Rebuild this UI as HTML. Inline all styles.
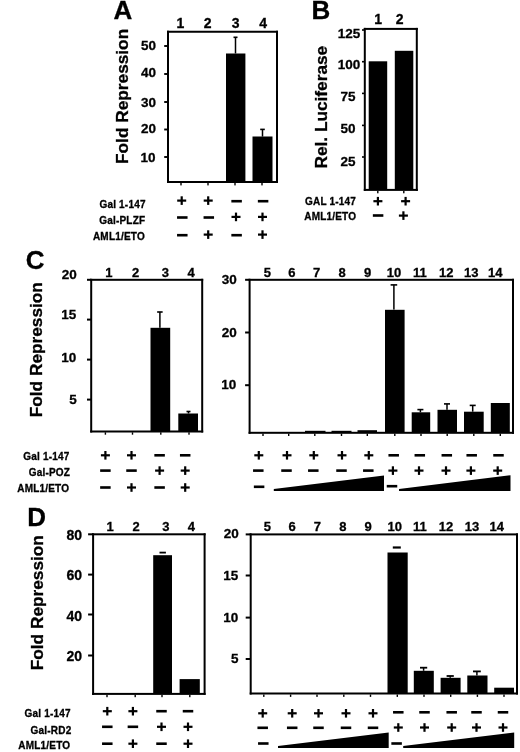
<!DOCTYPE html>
<html><head><meta charset="utf-8"><style>
html,body{margin:0;padding:0;background:#fff;}
body{width:520px;height:752px;overflow:hidden;}
svg{display:block;will-change:transform;}
text{font-family:"Liberation Sans", sans-serif;font-weight:bold;fill:#000;stroke:#000;stroke-width:0.3px;}
</style></head><body>
<svg width="520" height="752" viewBox="0 0 520 752">
<rect x="167.00" y="30.75" width="111.00" height="2.00"/>
<rect x="167.00" y="181.00" width="111.00" height="2.00"/>
<rect x="167.00" y="30.75" width="2.00" height="152.25"/>
<rect x="276.00" y="30.75" width="2.00" height="152.25"/>
<rect x="164.20" y="45.05" width="3.30" height="1.90"/>
<rect x="164.20" y="73.05" width="3.30" height="1.90"/>
<rect x="164.20" y="101.05" width="3.30" height="1.90"/>
<rect x="164.20" y="128.55" width="3.30" height="1.90"/>
<rect x="164.20" y="156.05" width="3.30" height="1.90"/>
<rect x="180.30" y="183.00" width="1.40" height="2.40"/>
<rect x="207.30" y="183.00" width="1.40" height="2.40"/>
<rect x="234.30" y="183.00" width="1.40" height="2.40"/>
<rect x="261.30" y="183.00" width="1.40" height="2.40"/>
<rect x="226.00" y="53.50" width="19.40" height="128.50"/>
<rect x="234.75" y="37.30" width="1.50" height="16.20"/>
<rect x="233.50" y="36.50" width="4.00" height="1.60"/>
<rect x="252.50" y="136.50" width="20.00" height="45.50"/>
<rect x="261.75" y="129.40" width="1.50" height="7.20"/>
<rect x="260.20" y="128.60" width="4.60" height="1.60"/>
<rect x="177.20" y="199.50" width="9.00" height="2.20"/>
<rect x="180.60" y="196.30" width="2.20" height="8.60"/>
<rect x="203.70" y="199.50" width="9.00" height="2.20"/>
<rect x="207.10" y="196.30" width="2.20" height="8.60"/>
<rect x="231.35" y="199.90" width="10.50" height="2.60"/>
<rect x="257.85" y="199.90" width="10.50" height="2.60"/>
<rect x="177.05" y="216.20" width="10.50" height="2.60"/>
<rect x="203.55" y="216.20" width="10.50" height="2.60"/>
<rect x="231.50" y="215.80" width="9.00" height="2.20"/>
<rect x="234.90" y="212.60" width="2.20" height="8.60"/>
<rect x="258.00" y="215.80" width="9.00" height="2.20"/>
<rect x="261.40" y="212.60" width="2.20" height="8.60"/>
<rect x="177.05" y="233.90" width="10.50" height="2.60"/>
<rect x="203.70" y="233.50" width="9.00" height="2.20"/>
<rect x="207.10" y="230.30" width="2.20" height="8.60"/>
<rect x="231.35" y="233.90" width="10.50" height="2.60"/>
<rect x="258.00" y="233.50" width="9.00" height="2.20"/>
<rect x="261.40" y="230.30" width="2.20" height="8.60"/>
<rect x="363.80" y="27.90" width="54.00" height="2.00"/>
<rect x="363.80" y="188.90" width="54.00" height="2.00"/>
<rect x="363.80" y="27.90" width="2.00" height="163.00"/>
<rect x="415.80" y="27.90" width="2.00" height="163.00"/>
<rect x="362.00" y="29.20" width="2.00" height="1.60"/>
<rect x="362.00" y="60.90" width="2.00" height="1.60"/>
<rect x="362.00" y="92.60" width="2.00" height="1.60"/>
<rect x="362.00" y="124.60" width="2.00" height="1.60"/>
<rect x="362.00" y="156.20" width="2.00" height="1.60"/>
<rect x="368.70" y="61.30" width="18.50" height="128.60"/>
<rect x="394.80" y="50.80" width="18.50" height="139.10"/>
<rect x="377.10" y="190.90" width="1.40" height="2.40"/>
<rect x="403.10" y="190.90" width="1.40" height="2.40"/>
<rect x="373.40" y="200.10" width="9.00" height="2.20"/>
<rect x="376.80" y="196.90" width="2.20" height="8.60"/>
<rect x="401.10" y="200.10" width="9.00" height="2.20"/>
<rect x="404.50" y="196.90" width="2.20" height="8.60"/>
<rect x="372.85" y="214.20" width="10.50" height="2.60"/>
<rect x="398.90" y="214.50" width="9.00" height="2.20"/>
<rect x="402.30" y="211.30" width="2.20" height="8.60"/>
<rect x="90.20" y="278.80" width="113.00" height="2.00"/>
<rect x="90.20" y="430.50" width="113.00" height="2.00"/>
<rect x="90.20" y="278.80" width="2.00" height="153.70"/>
<rect x="201.20" y="278.80" width="2.00" height="153.70"/>
<rect x="87.00" y="278.80" width="4.00" height="2.00"/>
<rect x="87.00" y="318.60" width="4.00" height="2.00"/>
<rect x="87.00" y="358.60" width="4.00" height="2.00"/>
<rect x="87.00" y="398.60" width="4.00" height="2.00"/>
<rect x="104.70" y="432.30" width="1.40" height="2.40"/>
<rect x="131.80" y="432.30" width="1.40" height="2.40"/>
<rect x="160.10" y="432.30" width="1.40" height="2.40"/>
<rect x="188.30" y="432.30" width="1.40" height="2.40"/>
<rect x="150.50" y="327.80" width="19.70" height="103.70"/>
<rect x="159.15" y="312.00" width="1.50" height="15.80"/>
<rect x="157.15" y="311.20" width="5.50" height="1.60"/>
<rect x="178.30" y="413.50" width="19.70" height="18.00"/>
<rect x="187.75" y="411.50" width="1.50" height="2.00"/>
<rect x="186.50" y="410.70" width="4.00" height="1.60"/>
<rect x="248.60" y="278.80" width="265.40" height="2.00"/>
<rect x="248.60" y="431.80" width="265.40" height="2.00"/>
<rect x="248.60" y="278.80" width="2.00" height="155.00"/>
<rect x="512.00" y="278.80" width="2.00" height="155.00"/>
<rect x="245.10" y="278.80" width="4.50" height="2.00"/>
<rect x="245.10" y="331.50" width="4.50" height="2.00"/>
<rect x="245.10" y="384.20" width="4.50" height="2.00"/>
<rect x="262.30" y="433.60" width="1.40" height="2.40"/>
<rect x="288.00" y="433.60" width="1.40" height="2.40"/>
<rect x="314.10" y="433.60" width="1.40" height="2.40"/>
<rect x="340.80" y="433.60" width="1.40" height="2.40"/>
<rect x="366.60" y="433.60" width="1.40" height="2.40"/>
<rect x="394.10" y="433.60" width="1.40" height="2.40"/>
<rect x="420.30" y="433.60" width="1.40" height="2.40"/>
<rect x="446.50" y="433.60" width="1.40" height="2.40"/>
<rect x="473.10" y="433.60" width="1.40" height="2.40"/>
<rect x="499.60" y="433.60" width="1.40" height="2.40"/>
<rect x="305.00" y="430.80" width="20.50" height="2.00"/>
<rect x="331.50" y="430.80" width="20.00" height="2.00"/>
<rect x="357.50" y="430.20" width="19.50" height="2.60"/>
<rect x="385.00" y="309.80" width="19.60" height="123.00"/>
<rect x="393.15" y="284.90" width="1.50" height="24.70"/>
<rect x="390.60" y="284.10" width="6.60" height="1.60"/>
<rect x="411.70" y="412.30" width="18.50" height="20.50"/>
<rect x="419.65" y="409.60" width="1.50" height="2.70"/>
<rect x="417.40" y="408.80" width="6.00" height="1.60"/>
<rect x="437.50" y="409.80" width="19.50" height="23.00"/>
<rect x="446.25" y="403.90" width="1.50" height="5.90"/>
<rect x="444.00" y="403.10" width="6.00" height="1.60"/>
<rect x="464.00" y="411.70" width="19.70" height="21.10"/>
<rect x="471.95" y="405.40" width="1.50" height="6.30"/>
<rect x="469.70" y="404.60" width="6.00" height="1.60"/>
<rect x="490.80" y="403.00" width="19.00" height="29.80"/>
<rect x="100.90" y="454.20" width="9.00" height="2.20"/>
<rect x="104.30" y="451.00" width="2.20" height="8.60"/>
<rect x="127.00" y="454.20" width="9.00" height="2.20"/>
<rect x="130.40" y="451.00" width="2.20" height="8.60"/>
<rect x="154.35" y="454.00" width="10.50" height="2.60"/>
<rect x="179.95" y="454.00" width="10.50" height="2.60"/>
<rect x="100.15" y="469.30" width="10.50" height="2.60"/>
<rect x="126.25" y="469.30" width="10.50" height="2.60"/>
<rect x="155.10" y="469.50" width="9.00" height="2.20"/>
<rect x="158.50" y="466.30" width="2.20" height="8.60"/>
<rect x="180.70" y="469.50" width="9.00" height="2.20"/>
<rect x="184.10" y="466.30" width="2.20" height="8.60"/>
<rect x="100.15" y="486.20" width="10.50" height="2.60"/>
<rect x="127.00" y="486.40" width="9.00" height="2.20"/>
<rect x="130.40" y="483.20" width="2.20" height="8.60"/>
<rect x="154.35" y="486.20" width="10.50" height="2.60"/>
<rect x="180.70" y="486.40" width="9.00" height="2.20"/>
<rect x="184.10" y="483.20" width="2.20" height="8.60"/>
<rect x="254.30" y="454.20" width="9.00" height="2.20"/>
<rect x="257.70" y="451.00" width="2.20" height="8.60"/>
<rect x="253.05" y="469.30" width="10.50" height="2.60"/>
<rect x="282.50" y="454.20" width="9.00" height="2.20"/>
<rect x="285.90" y="451.00" width="2.20" height="8.60"/>
<rect x="281.25" y="469.30" width="10.50" height="2.60"/>
<rect x="309.30" y="454.20" width="9.00" height="2.20"/>
<rect x="312.70" y="451.00" width="2.20" height="8.60"/>
<rect x="308.05" y="469.30" width="10.50" height="2.60"/>
<rect x="337.50" y="454.20" width="9.00" height="2.20"/>
<rect x="340.90" y="451.00" width="2.20" height="8.60"/>
<rect x="336.25" y="469.30" width="10.50" height="2.60"/>
<rect x="364.30" y="454.20" width="9.00" height="2.20"/>
<rect x="367.70" y="451.00" width="2.20" height="8.60"/>
<rect x="363.05" y="469.30" width="10.50" height="2.60"/>
<rect x="388.45" y="454.00" width="10.50" height="2.60"/>
<rect x="388.40" y="469.50" width="9.00" height="2.20"/>
<rect x="391.80" y="466.30" width="2.20" height="8.60"/>
<rect x="414.55" y="454.00" width="10.50" height="2.60"/>
<rect x="414.50" y="469.50" width="9.00" height="2.20"/>
<rect x="417.90" y="466.30" width="2.20" height="8.60"/>
<rect x="441.55" y="454.00" width="10.50" height="2.60"/>
<rect x="441.50" y="469.50" width="9.00" height="2.20"/>
<rect x="444.90" y="466.30" width="2.20" height="8.60"/>
<rect x="466.45" y="454.00" width="10.50" height="2.60"/>
<rect x="466.40" y="469.50" width="9.00" height="2.20"/>
<rect x="469.80" y="466.30" width="2.20" height="8.60"/>
<rect x="493.25" y="454.00" width="10.50" height="2.60"/>
<rect x="493.20" y="469.50" width="9.00" height="2.20"/>
<rect x="496.60" y="466.30" width="2.20" height="8.60"/>
<rect x="253.85" y="485.50" width="10.50" height="2.60"/>
<rect x="386.75" y="484.90" width="10.50" height="2.60"/>
<rect x="92.10" y="533.30" width="113.50" height="2.00"/>
<rect x="92.10" y="692.90" width="113.50" height="2.00"/>
<rect x="92.10" y="533.30" width="2.00" height="161.60"/>
<rect x="203.60" y="533.30" width="2.00" height="161.60"/>
<rect x="88.10" y="533.30" width="5.00" height="2.00"/>
<rect x="88.10" y="573.60" width="5.00" height="2.00"/>
<rect x="88.10" y="613.50" width="5.00" height="2.00"/>
<rect x="88.10" y="654.50" width="5.00" height="2.00"/>
<rect x="106.30" y="694.80" width="1.40" height="2.40"/>
<rect x="134.50" y="694.80" width="1.40" height="2.40"/>
<rect x="161.30" y="694.80" width="1.40" height="2.40"/>
<rect x="189.10" y="694.80" width="1.40" height="2.40"/>
<rect x="153.20" y="555.20" width="18.80" height="138.70"/>
<rect x="162.70" y="552.60" width="0.00" height="2.60"/>
<rect x="159.50" y="551.70" width="6.40" height="1.80"/>
<rect x="179.60" y="679.10" width="20.20" height="14.80"/>
<rect x="249.70" y="533.40" width="268.30" height="2.00"/>
<rect x="249.70" y="692.50" width="268.30" height="2.00"/>
<rect x="249.70" y="533.40" width="2.00" height="161.10"/>
<rect x="516.00" y="533.40" width="2.00" height="161.10"/>
<rect x="245.70" y="533.40" width="5.00" height="2.00"/>
<rect x="245.70" y="574.50" width="5.00" height="2.00"/>
<rect x="245.70" y="616.60" width="5.00" height="2.00"/>
<rect x="245.70" y="658.00" width="5.00" height="2.00"/>
<rect x="263.10" y="694.50" width="1.40" height="2.40"/>
<rect x="289.90" y="694.50" width="1.40" height="2.40"/>
<rect x="316.30" y="694.50" width="1.40" height="2.40"/>
<rect x="343.10" y="694.50" width="1.40" height="2.40"/>
<rect x="369.80" y="694.50" width="1.40" height="2.40"/>
<rect x="396.60" y="694.50" width="1.40" height="2.40"/>
<rect x="423.30" y="694.50" width="1.40" height="2.40"/>
<rect x="450.00" y="694.50" width="1.40" height="2.40"/>
<rect x="476.70" y="694.50" width="1.40" height="2.40"/>
<rect x="503.30" y="694.50" width="1.40" height="2.40"/>
<rect x="387.50" y="552.50" width="20.20" height="141.00"/>
<rect x="396.80" y="547.50" width="0.00" height="5.00"/>
<rect x="392.80" y="546.40" width="8.00" height="2.20"/>
<rect x="413.80" y="670.80" width="20.00" height="22.70"/>
<rect x="422.85" y="667.70" width="1.50" height="3.10"/>
<rect x="420.00" y="666.80" width="7.20" height="1.80"/>
<rect x="440.60" y="677.80" width="20.00" height="15.70"/>
<rect x="449.45" y="676.00" width="1.50" height="1.80"/>
<rect x="446.60" y="675.10" width="7.20" height="1.80"/>
<rect x="467.30" y="675.50" width="20.20" height="18.00"/>
<rect x="476.15" y="671.40" width="1.50" height="4.10"/>
<rect x="473.00" y="670.50" width="7.80" height="1.80"/>
<rect x="494.20" y="687.70" width="19.80" height="5.80"/>
<rect x="102.80" y="710.10" width="9.00" height="2.20"/>
<rect x="106.20" y="706.90" width="2.20" height="8.60"/>
<rect x="128.40" y="710.10" width="9.00" height="2.20"/>
<rect x="131.80" y="706.90" width="2.20" height="8.60"/>
<rect x="156.25" y="709.90" width="10.50" height="2.60"/>
<rect x="182.75" y="709.90" width="10.50" height="2.60"/>
<rect x="102.05" y="725.50" width="10.50" height="2.60"/>
<rect x="127.65" y="725.50" width="10.50" height="2.60"/>
<rect x="157.00" y="725.70" width="9.00" height="2.20"/>
<rect x="160.40" y="722.50" width="2.20" height="8.60"/>
<rect x="183.50" y="725.70" width="9.00" height="2.20"/>
<rect x="186.90" y="722.50" width="2.20" height="8.60"/>
<rect x="102.05" y="742.40" width="10.50" height="2.60"/>
<rect x="128.40" y="742.60" width="9.00" height="2.20"/>
<rect x="131.80" y="739.40" width="2.20" height="8.60"/>
<rect x="156.25" y="742.40" width="10.50" height="2.60"/>
<rect x="183.50" y="742.60" width="9.00" height="2.20"/>
<rect x="186.90" y="739.40" width="2.20" height="8.60"/>
<rect x="258.20" y="712.20" width="9.00" height="2.20"/>
<rect x="261.60" y="709.00" width="2.20" height="8.60"/>
<rect x="257.45" y="726.50" width="10.50" height="2.60"/>
<rect x="287.70" y="712.20" width="9.00" height="2.20"/>
<rect x="291.10" y="709.00" width="2.20" height="8.60"/>
<rect x="286.95" y="726.50" width="10.50" height="2.60"/>
<rect x="314.00" y="712.20" width="9.00" height="2.20"/>
<rect x="317.40" y="709.00" width="2.20" height="8.60"/>
<rect x="313.25" y="726.50" width="10.50" height="2.60"/>
<rect x="341.50" y="712.20" width="9.00" height="2.20"/>
<rect x="344.90" y="709.00" width="2.20" height="8.60"/>
<rect x="340.75" y="726.50" width="10.50" height="2.60"/>
<rect x="368.50" y="712.20" width="9.00" height="2.20"/>
<rect x="371.90" y="709.00" width="2.20" height="8.60"/>
<rect x="367.75" y="726.50" width="10.50" height="2.60"/>
<rect x="393.05" y="711.00" width="10.50" height="2.60"/>
<rect x="393.80" y="726.40" width="9.00" height="2.20"/>
<rect x="397.20" y="723.20" width="2.20" height="8.60"/>
<rect x="419.25" y="711.00" width="10.50" height="2.60"/>
<rect x="420.00" y="726.40" width="9.00" height="2.20"/>
<rect x="423.40" y="723.20" width="2.20" height="8.60"/>
<rect x="446.45" y="711.00" width="10.50" height="2.60"/>
<rect x="447.20" y="726.40" width="9.00" height="2.20"/>
<rect x="450.60" y="723.20" width="2.20" height="8.60"/>
<rect x="471.25" y="711.00" width="10.50" height="2.60"/>
<rect x="472.00" y="726.40" width="9.00" height="2.20"/>
<rect x="475.40" y="723.20" width="2.20" height="8.60"/>
<rect x="497.75" y="711.00" width="10.50" height="2.60"/>
<rect x="498.50" y="726.40" width="9.00" height="2.20"/>
<rect x="501.90" y="723.20" width="2.20" height="8.60"/>
<rect x="258.05" y="742.20" width="10.50" height="2.60"/>
<rect x="391.35" y="742.20" width="10.50" height="2.60"/>
<polygon points="273.80,491.00 273.80,489.00 384.00,475.40 384.00,491.00"/>
<polygon points="399.00,491.00 399.00,489.00 510.50,475.20 510.50,491.00"/>
<polygon points="278.00,748.00 278.00,746.00 388.70,732.50 388.70,748.00"/>
<polygon points="403.20,748.00 403.20,746.00 514.20,732.50 514.20,748.00"/>
<text transform="translate(113.55,19.00)" font-size="26">A</text>
<text transform="translate(127.60,163.95) rotate(-90)" font-size="17.25" stroke-width="0.45">Fold Repression</text>
<text transform="translate(141.05,49.50)" font-size="13.5">50</text>
<text transform="translate(141.05,77.10)" font-size="13.5">40</text>
<text transform="translate(141.05,106.50)" font-size="13.5">30</text>
<text transform="translate(141.05,133.20)" font-size="13.5">20</text>
<text transform="translate(140.55,161.90)" font-size="13.5">10</text>
<text transform="translate(176.50,27.85)" font-size="14">1</text>
<text transform="translate(203.70,27.85)" font-size="14">2</text>
<text transform="translate(231.80,27.85)" font-size="14">3</text>
<text transform="translate(259.20,27.85)" font-size="14">4</text>
<text transform="translate(99.40,208.15)" font-size="10" stroke-width="0.5" letter-spacing="0.2">Gal 1-147</text>
<text transform="translate(99.20,223.70)" font-size="10" stroke-width="0.5" letter-spacing="0.2">Gal-PLZF</text>
<text transform="translate(92.95,240.15)" font-size="10" stroke-width="0.5" letter-spacing="0.2">AML1/ETO</text>
<text transform="translate(311.60,18.85)" font-size="26">B</text>
<text transform="translate(327.40,168.55) rotate(-90)" font-size="17.25" stroke-width="0.45">Rel. Luciferase</text>
<text transform="translate(337.80,37.50)" font-size="13.5">125</text>
<text transform="translate(337.80,68.90)" font-size="13.5">100</text>
<text transform="translate(340.50,101.20)" font-size="13.5">75</text>
<text transform="translate(340.50,133.00)" font-size="13.5">50</text>
<text transform="translate(340.50,165.50)" font-size="13.5">25</text>
<text transform="translate(374.20,24.35)" font-size="14">1</text>
<text transform="translate(395.85,24.35)" font-size="14">2</text>
<text transform="translate(305.00,205.05)" font-size="10" stroke-width="0.5" letter-spacing="0.2">GAL 1-147</text>
<text transform="translate(304.25,220.30)" font-size="10" stroke-width="0.5" letter-spacing="0.2">AML1/ETO</text>
<text transform="translate(25.85,269.20)" font-size="26">C</text>
<text transform="translate(41.50,417.25) rotate(-90)" font-size="17.25" stroke-width="0.45">Fold Repression</text>
<text transform="translate(61.75,279.00)" font-size="13.5">20</text>
<text transform="translate(61.25,319.30)" font-size="13.5">15</text>
<text transform="translate(61.25,361.60)" font-size="13.5">10</text>
<text transform="translate(69.20,404.30)" font-size="13.5">5</text>
<text transform="translate(105.30,277.45)" font-size="13">1</text>
<text transform="translate(132.10,277.45)" font-size="13">2</text>
<text transform="translate(161.70,277.45)" font-size="13">3</text>
<text transform="translate(187.50,277.45)" font-size="13">4</text>
<text transform="translate(221.80,283.90)" font-size="13.5">30</text>
<text transform="translate(221.80,337.00)" font-size="13.5">20</text>
<text transform="translate(221.30,388.50)" font-size="13.5">10</text>
<text transform="translate(263.70,277.45)" font-size="13">5</text>
<text transform="translate(288.30,277.45)" font-size="13">6</text>
<text transform="translate(313.10,277.45)" font-size="13">7</text>
<text transform="translate(338.50,277.45)" font-size="13">8</text>
<text transform="translate(364.10,277.45)" font-size="13">9</text>
<text transform="translate(386.70,277.45)" font-size="13">10</text>
<text transform="translate(413.00,277.45)" font-size="13">11</text>
<text transform="translate(439.10,277.45)" font-size="13">12</text>
<text transform="translate(464.00,277.45)" font-size="13">13</text>
<text transform="translate(488.10,277.45)" font-size="13">14</text>
<text transform="translate(23.35,459.65)" font-size="10" stroke-width="0.5" letter-spacing="0.2">Gal 1-147</text>
<text transform="translate(28.70,475.90)" font-size="10" stroke-width="0.5" letter-spacing="0.2">Gal-POZ</text>
<text transform="translate(17.25,492.40)" font-size="10" stroke-width="0.5" letter-spacing="0.2">AML1/ETO</text>
<text transform="translate(27.25,525.75)" font-size="26">D</text>
<text transform="translate(42.50,670.25) rotate(-90)" font-size="17.25" stroke-width="0.45">Fold Repression</text>
<text transform="translate(66.55,540.20)" font-size="14">80</text>
<text transform="translate(66.55,580.40)" font-size="14">60</text>
<text transform="translate(66.55,620.50)" font-size="14">40</text>
<text transform="translate(66.55,660.70)" font-size="14">20</text>
<text transform="translate(106.50,531.00)" font-size="13">1</text>
<text transform="translate(132.60,531.00)" font-size="13">2</text>
<text transform="translate(162.20,531.00)" font-size="13">3</text>
<text transform="translate(187.80,531.00)" font-size="13">4</text>
<text transform="translate(223.70,538.40)" font-size="13.5">20</text>
<text transform="translate(223.20,579.50)" font-size="13.5">15</text>
<text transform="translate(223.20,621.60)" font-size="13.5">10</text>
<text transform="translate(230.95,662.90)" font-size="13.5">5</text>
<text transform="translate(263.70,530.70)" font-size="13">5</text>
<text transform="translate(288.50,530.70)" font-size="13">6</text>
<text transform="translate(313.70,530.70)" font-size="13">7</text>
<text transform="translate(339.20,530.70)" font-size="13">8</text>
<text transform="translate(364.60,530.70)" font-size="13">9</text>
<text transform="translate(387.50,530.70)" font-size="13">10</text>
<text transform="translate(412.90,530.70)" font-size="13">11</text>
<text transform="translate(438.70,530.70)" font-size="13">12</text>
<text transform="translate(464.80,530.70)" font-size="13">13</text>
<text transform="translate(489.50,530.70)" font-size="13">14</text>
<text transform="translate(24.50,717.35)" font-size="10" stroke-width="0.5" letter-spacing="0.2">Gal 1-147</text>
<text transform="translate(30.60,733.95)" font-size="10" stroke-width="0.5" letter-spacing="0.2">Gal-RD2</text>
<text transform="translate(18.35,748.95)" font-size="10" stroke-width="0.5" letter-spacing="0.2">AML1/ETO</text>
</svg>
</body></html>
